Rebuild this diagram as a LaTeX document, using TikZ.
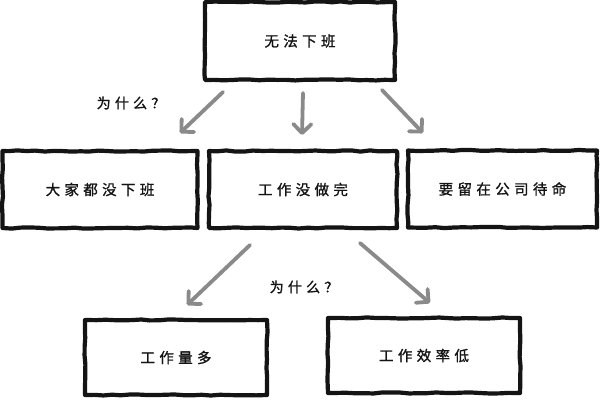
\documentclass[tikz,border=0pt]{standalone}
\usepackage{fontspec}
\setmainfont{Noto Sans CJK SC}
\newfontfamily\cjkf[LetterSpace=30,FakeBold=1.2]{Noto Sans CJK SC}
\usetikzlibrary{arrows.meta,decorations.pathmorphing}
\definecolor{arrowgray}{HTML}{8A8A8A}
\definecolor{inkblack}{HTML}{141414}
\tikzset{
  sketchbox/.style={draw=inkblack, line width=4.2pt, line join=round, fill=white,
    decorate, decoration={random steps, segment length=9pt, amplitude=0.6pt},
    font=\cjkf\fontsize{14.5}{16}\selectfont, inner sep=0pt, text=inkblack},
  grayarrow/.style={draw=arrowgray, line width=3.8pt, line cap=round,
    -{Straight Barb[length=9pt, width=18pt, line cap=round, line join=round]}},
  whylabel/.style={font=\cjkf\fontsize{14}{16}\selectfont, text=inkblack, inner sep=0pt}
}
\begin{document}
\begin{tikzpicture}[x=1pt,y=-1pt]
\pgfmathsetseed{7}
\useasboundingbox (0,0) rectangle (600,400);
% boxes
\node[sketchbox, minimum width=190pt, minimum height=78pt] (top) at (300,41) {无法下班};
\node[sketchbox, minimum width=195pt, minimum height=77pt] (b1) at (100,189.5) {大家都没下班};
\node[sketchbox, minimum width=188pt, minimum height=77pt] (b2) at (303,189.5) {工作没做完};
\node[sketchbox, minimum width=189pt, minimum height=77pt] (b3) at (502.5,189) {要留在公司待命};
\node[sketchbox, minimum width=182pt, minimum height=75pt] (b4) at (176,357.5) {工作量多};
\node[sketchbox, minimum width=192pt, minimum height=75pt] (b5) at (424,355.5) {工作效率低};
% labels
\node[whylabel] (why1) at (131,103) {为什么？};
\node[whylabel] (why2) at (304,287) {为什么？};
% arrow end points
\coordinate (a1s) at (223,92);  \coordinate (a1e) at (180,133);
\coordinate (a2s) at (303,93);  \coordinate (a2e) at (302,135);
\coordinate (a3s) at (382,90);  \coordinate (a3e) at (423,133);
\coordinate (a4s) at (250,245); \coordinate (a4e) at (187,305);
\coordinate (a5s) at (360,243); \coordinate (a5e) at (430,303);
\draw[grayarrow] (a1s) -- (a1e);
\draw[grayarrow] (a2s) -- (a2e);
\draw[grayarrow] (a3s) -- (a3e);
\draw[grayarrow] (a4s) -- (a4e);
\draw[grayarrow] (a5s) -- (a5e);
\end{tikzpicture}
\end{document}
